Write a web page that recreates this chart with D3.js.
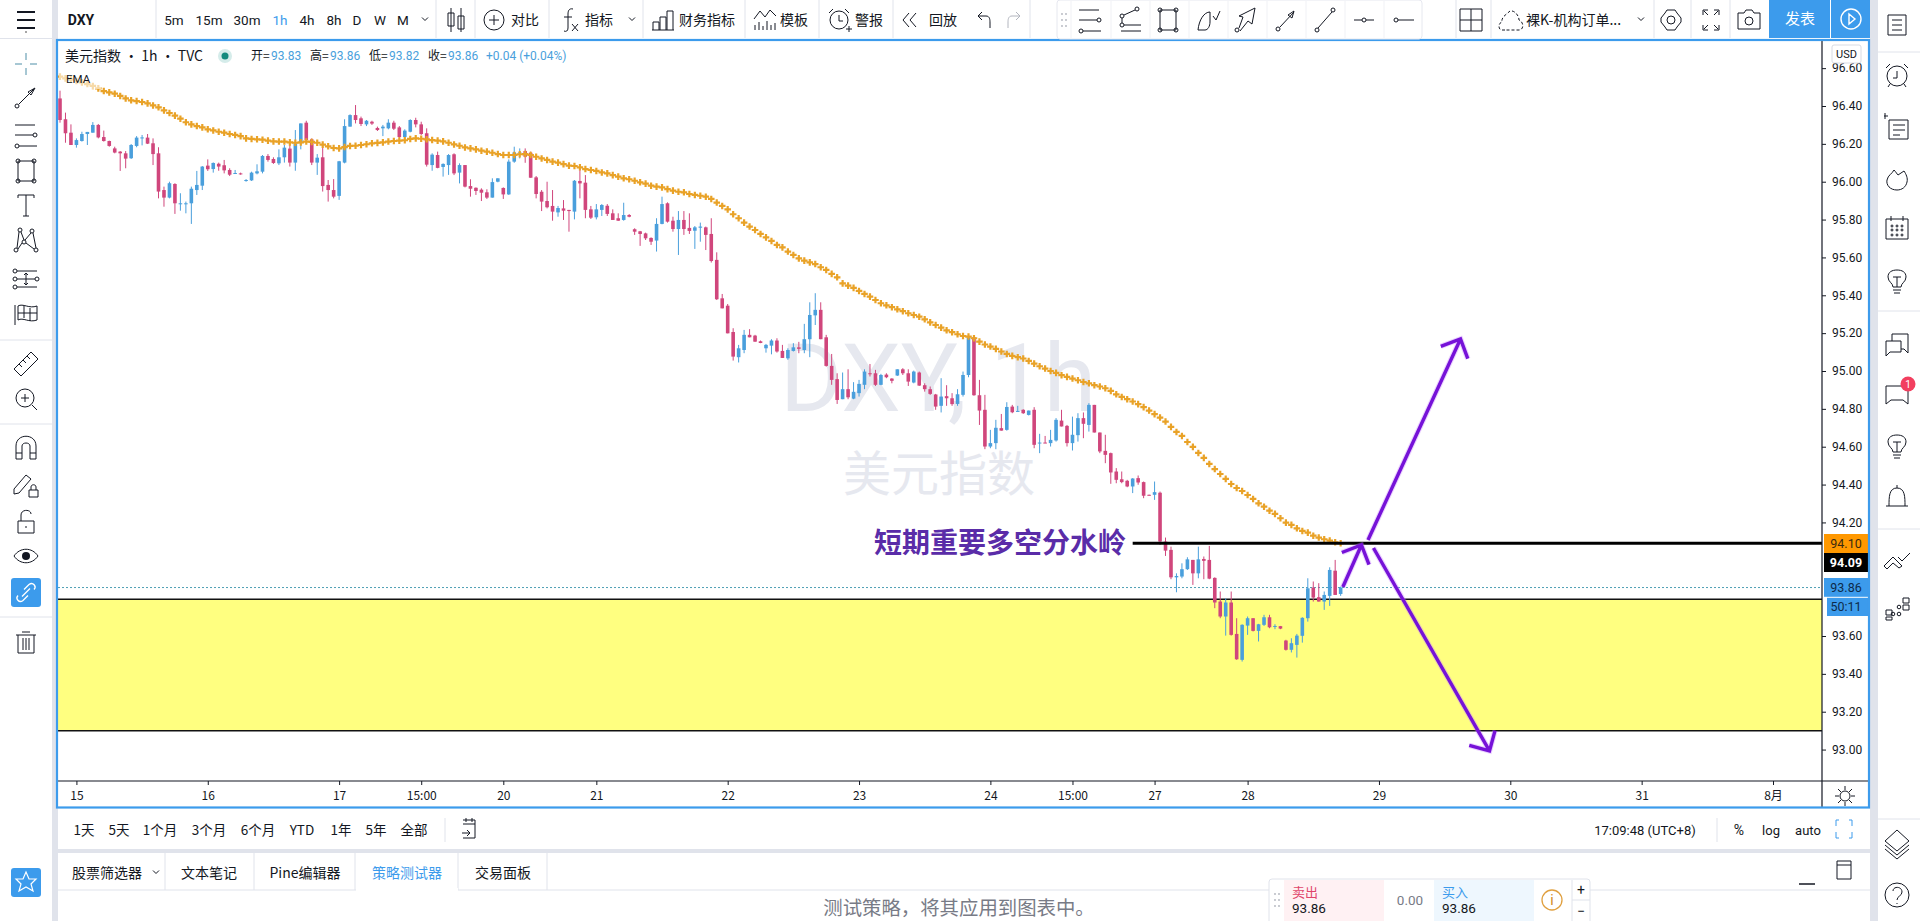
<!DOCTYPE html>
<html>
<head>
<meta charset="utf-8">
<title>DXY 1h</title>
<script src="https://cdn.jsdelivr.net/npm/d3@7"></script>
<style>
  html, body { margin: 0; padding: 0; background: #fff; overflow: hidden; }
  text { font-family: Roboto, "Noto Sans CJK SC", sans-serif; fill: #131722; }
  .cjk { font-family: "Noto Sans CJK SC", sans-serif; }
  .axis-y path, .axis-x path { display: none; }
  .axis-y line, .axis-x line { stroke: #131722; }
</style>
</head>
<body>
<svg id="chart" width="1920" height="921"></svg>
<script>
// one hourly candle per slot
const highs = [
  96.481,96.365,96.303,96.229,96.264,96.263,96.315,96.305,96.27,96.217,
  96.185,96.162,96.162,96.199,96.241,96.247,96.252,96.229,96.182,95.974,
  96.0,95.992,95.939,95.895,95.974,96.057,96.083,96.118,96.102,96.101,
  96.115,96.071,96.062,96.048,96.014,96.053,96.092,96.141,96.146,96.129,
  96.171,96.194,96.194,96.273,96.308,96.322,96.229,96.146,96.194,96.009,
  96.014,96.11,96.33,96.356,96.405,96.344,96.326,96.322,96.291,96.3,
  96.33,96.322,96.294,96.277,96.33,96.338,96.317,96.282,96.15,96.159,
  96.097,96.146,96.15,96.097,96.088,96.013,95.97,95.965,95.96,96.018,
  96.018,95.97,96.118,96.185,96.176,96.176,96.159,96.03,95.956,96.0,
  95.956,95.872,95.903,95.851,96.009,96.088,96.035,95.872,95.882,95.882,
  95.882,95.854,95.833,95.889,95.829,95.754,95.74,95.731,95.706,95.807,
  95.921,95.891,95.815,95.845,95.845,95.833,95.766,95.784,95.763,95.807,
  95.627,95.407,95.354,95.226,95.138,95.217,95.221,95.191,95.161,95.143,
  95.168,95.173,95.138,95.12,95.147,95.154,95.249,95.363,95.411,95.363,
  95.191,95.09,94.988,94.992,95.009,94.941,94.953,95.009,95.037,95.006,
  94.985,94.988,94.962,95.009,95.015,95.009,95.002,94.997,94.935,94.918,
  94.879,94.962,94.925,94.883,94.904,94.997,95.185,95.182,94.953,94.874,
  94.689,94.742,94.773,94.835,94.821,94.816,94.798,94.791,94.809,94.668,
  94.657,94.689,94.751,94.795,94.715,94.759,94.777,94.781,94.83,94.821,
  94.675,94.663,94.569,94.487,94.469,94.425,94.434,94.448,94.416,94.347,
  94.416,94.363,94.12,94.072,93.931,93.984,94.016,94.002,94.072,94.02,
  94.076,93.91,93.835,93.799,93.835,93.694,93.662,93.703,93.694,93.664,
  93.712,93.712,93.662,93.653,93.58,93.588,93.611,93.699,93.905,93.888,
  93.879,93.835,93.963,94.002,93.861
];
const lows = [
  96.312,96.206,96.194,96.18,96.212,96.194,96.259,96.229,96.212,96.185,
  96.15,96.057,96.071,96.12,96.182,96.192,96.199,96.088,95.912,95.868,
  95.912,95.83,95.847,95.833,95.777,95.93,95.956,96.057,96.048,96.058,
  96.044,96.03,96.044,96.037,96.0,96.004,96.039,96.044,96.106,96.094,
  96.088,96.101,96.08,96.058,96.171,96.212,96.088,96.036,95.948,95.895,
  95.912,95.904,96.097,96.291,96.308,96.294,96.294,96.3,96.268,96.241,
  96.277,96.273,96.229,96.229,96.261,96.287,96.247,96.08,96.058,96.071,
  96.027,96.036,96.035,95.991,95.97,95.921,95.93,95.898,95.909,95.916,
  95.997,95.909,95.93,96.1,96.123,96.1,96.021,95.912,95.845,95.859,
  95.794,95.815,95.798,95.736,95.801,95.912,95.807,95.803,95.801,95.819,
  95.819,95.798,95.793,95.794,95.812,95.719,95.661,95.692,95.666,95.631,
  95.775,95.784,95.736,95.613,95.719,95.724,95.645,95.683,95.639,95.573,
  95.375,95.331,95.199,95.055,95.045,95.094,95.178,95.154,95.147,95.097,
  95.088,95.097,95.069,95.059,95.103,95.094,95.094,95.073,95.243,95.168,
  95.023,94.927,94.826,94.851,94.851,94.851,94.865,94.904,94.971,94.921,
  94.925,94.962,94.935,94.974,94.979,94.921,94.935,94.921,94.891,94.874,
  94.795,94.781,94.816,94.816,94.816,94.865,94.967,94.869,94.715,94.587,
  94.592,94.587,94.685,94.685,94.777,94.786,94.773,94.765,94.592,94.566,
  94.619,94.601,94.627,94.707,94.601,94.58,94.627,94.645,94.68,94.675,
  94.566,94.513,94.404,94.407,94.407,94.386,94.355,94.399,94.328,94.342,
  94.319,94.081,94.023,93.9,93.831,93.905,93.949,93.87,93.905,93.9,
  93.9,93.747,93.694,93.602,93.602,93.474,93.465,93.606,93.624,93.571,
  93.653,93.641,93.636,93.636,93.523,93.513,93.486,93.565,93.676,93.782,
  93.782,93.738,93.759,93.817,93.812
];
const opens = [
  96.44,96.33,96.259,96.194,96.215,96.252,96.259,96.3,96.236,96.215,
  96.176,96.159,96.15,96.124,96.189,96.231,96.233,96.203,96.15,95.956,
  95.916,95.988,95.882,95.882,95.886,95.956,95.979,96.085,96.067,96.095,
  96.087,96.062,96.044,96.044,96.004,96.007,96.044,96.053,96.136,96.12,
  96.097,96.129,96.175,96.101,96.203,96.312,96.224,96.101,96.129,95.983,
  95.956,95.925,96.101,96.291,96.352,96.335,96.303,96.317,96.284,96.282,
  96.282,96.312,96.287,96.236,96.264,96.326,96.303,96.256,96.088,96.141,
  96.078,96.088,96.145,96.048,96.088,95.977,95.968,95.958,95.944,95.916,
  96.0,95.967,95.933,96.106,96.15,96.162,96.153,96.023,95.947,95.898,
  95.872,95.838,95.859,95.851,95.842,96.004,95.995,95.854,95.812,95.851,
  95.873,95.833,95.807,95.798,95.824,95.749,95.738,95.727,95.703,95.689,
  95.777,95.886,95.794,95.75,95.798,95.756,95.741,95.757,95.759,95.724,
  95.587,95.384,95.345,95.206,95.073,95.111,95.191,95.187,95.157,95.12,
  95.134,95.161,95.106,95.067,95.106,95.125,95.111,95.168,95.294,95.323,
  95.178,95.027,94.957,94.851,94.904,94.854,94.883,94.927,94.988,94.988,
  94.927,94.981,94.96,94.976,95.009,94.988,94.939,94.992,94.925,94.904,
  94.876,94.816,94.867,94.856,94.826,94.874,94.979,95.178,94.872,94.795,
  94.601,94.619,94.698,94.689,94.812,94.786,94.795,94.768,94.795,94.617,
  94.622,94.619,94.633,94.738,94.71,94.619,94.661,94.751,94.715,94.821,
  94.675,94.578,94.566,94.469,94.428,94.42,94.39,94.434,94.413,94.346,
  94.346,94.357,94.099,94.055,93.91,93.914,93.953,94.002,93.931,94.007,
  94.002,93.907,93.782,93.703,93.777,93.611,93.474,93.655,93.694,93.627,
  93.659,93.699,93.648,93.652,93.576,93.527,93.553,93.601,93.694,93.856,
  93.805,93.782,93.812,93.945,93.822
];
const closes = [
  96.326,96.256,96.194,96.22,96.252,96.263,96.3,96.234,96.215,96.189,
  96.154,96.15,96.122,96.194,96.233,96.234,96.201,96.146,95.948,95.916,
  95.992,95.886,95.886,95.886,95.963,95.983,96.08,96.066,96.099,96.08,
  96.06,96.037,96.046,96.041,96.009,96.048,96.055,96.136,96.115,96.099,
  96.129,96.18,96.101,96.203,96.308,96.22,96.101,96.127,95.977,95.956,
  95.921,96.108,96.294,96.352,96.326,96.305,96.322,96.307,96.273,96.291,
  96.312,96.28,96.236,96.27,96.326,96.303,96.252,96.09,96.143,96.073,
  96.094,96.141,96.044,96.088,95.974,95.963,95.951,95.942,95.916,95.998,
  96.018,95.933,96.106,96.155,96.155,96.132,96.021,95.935,95.895,95.865,
  95.842,95.861,95.847,95.845,96.005,95.991,95.851,95.81,95.854,95.877,
  95.83,95.798,95.794,95.824,95.815,95.736,95.724,95.701,95.683,95.777,
  95.882,95.789,95.75,95.798,95.75,95.74,95.759,95.763,95.719,95.581,
  95.379,95.331,95.199,95.076,95.12,95.191,95.178,95.155,95.148,95.138,
  95.161,95.103,95.069,95.111,95.125,95.117,95.168,95.296,95.323,95.168,
  95.027,94.953,94.847,94.904,94.861,94.89,94.932,94.997,94.983,94.927,
  94.979,94.967,94.948,95.009,94.988,94.944,94.997,94.923,94.904,94.879,
  94.812,94.865,94.856,94.825,94.877,94.979,95.178,94.872,94.791,94.601,
  94.619,94.7,94.685,94.81,94.782,94.789,94.777,94.791,94.61,94.622,
  94.619,94.636,94.742,94.707,94.619,94.663,94.751,94.721,94.821,94.675,
  94.575,94.557,94.464,94.425,94.413,94.39,94.432,94.411,94.341,94.344,
  94.36,94.099,94.051,93.91,93.917,93.953,94.005,93.931,94.005,93.997,
  93.903,93.777,93.703,93.777,93.606,93.477,93.659,93.694,93.627,93.662,
  93.699,93.646,93.653,93.639,93.527,93.562,93.602,93.696,93.852,93.803,
  93.782,93.817,93.949,93.817,93.856
];
const emaValues = [
  96.555,96.546,96.541,96.532,96.525,96.516,96.506,96.493,96.479,96.472,
  96.465,96.453,96.44,96.43,96.426,96.421,96.414,96.403,96.393,96.377,
  96.363,96.349,96.333,96.314,96.303,96.294,96.287,96.277,96.271,96.264,
  96.259,96.252,96.247,96.241,96.229,96.226,96.224,96.222,96.217,96.213,
  96.212,96.212,96.208,96.206,96.208,96.212,96.21,96.206,96.196,96.187,
  96.178,96.176,96.183,96.189,96.19,96.194,96.198,96.203,96.205,96.208,
  96.212,96.215,96.217,96.219,96.226,96.229,96.227,96.224,96.22,96.217,
  96.213,96.206,96.197,96.19,96.181,96.176,96.171,96.164,96.159,96.153,
  96.146,96.141,96.141,96.141,96.145,96.146,96.141,96.132,96.123,96.115,
  96.106,96.101,96.093,96.085,96.083,96.076,96.067,96.062,96.057,96.049,
  96.044,96.035,96.027,96.018,96.013,96.005,95.997,95.99,95.979,95.974,
  95.97,95.961,95.953,95.947,95.944,95.935,95.93,95.926,95.921,95.909,
  95.89,95.872,95.854,95.828,95.807,95.784,95.763,95.745,95.724,95.706,
  95.687,95.666,95.653,95.631,95.613,95.595,95.583,95.574,95.565,95.548,
  95.534,95.513,95.495,95.463,95.451,95.439,95.423,95.407,95.393,95.375,
  95.358,95.347,95.337,95.326,95.316,95.305,95.296,95.287,95.273,95.257,
  95.243,95.229,95.215,95.205,95.194,95.185,95.182,95.173,95.155,95.14,
  95.129,95.117,95.103,95.09,95.08,95.073,95.066,95.053,95.039,95.025,
  95.013,95.0,94.99,94.978,94.969,94.96,94.951,94.942,94.935,94.925,
  94.918,94.909,94.895,94.877,94.863,94.851,94.839,94.825,94.809,94.791,
  94.772,94.754,94.733,94.705,94.678,94.657,94.625,94.599,94.567,94.541,
  94.509,94.482,94.456,94.43,94.403,94.382,94.366,94.345,94.324,94.301,
  94.283,94.262,94.245,94.222,94.199,94.187,94.169,94.155,94.146,94.13,
  94.12,94.111,94.104,94.095,94.09
];

// 94.00 and 93.80 sit under the price tags, so they never show
const priceTicks = [96.6,96.4,96.2,96.0,95.8,95.6,95.4,95.2,95.0,94.8,94.6,94.4,94.2,93.6,93.4,93.2,93.0];
const timeSlots = [3,27,51,66,81,98,122,146,170,185,200,217,241,265,289,313];
const timeLabels = ['15','16','17','15:00','20','21','22','23','24','15:00','27','28','29','30','31','8月'];

// drawn levels and arrows: [slot, price]
const levelLine = { fromSlot: 196, price: 94.09 };
const zoneTop = 93.794, zoneBottom = 93.10;
const lastPrice = 93.856;
const arrows = [
  [[234.4, 93.859], [237.8, 94.081]],
  [[239, 94.107], [255.9, 95.169]],
  [[240, 94.065], [261.2, 92.993]]
];

const svg = d3.select('#chart');
const plot = { left: 58, right: 1822, top: 40, bottom: 781 };
const upColor = '#4a9fdc', downColor = '#d0467c', blue = '#3c9bec', gray = '#e0e3eb', ink = '#131722';

const x = d3.scaleLinear().domain([0, 313]).range([60, 1773]);
const y = d3.scaleLinear().domain([96.4, 93.6]).range([106, 636]);

svg.append('defs').append('clipPath').attr('id', 'plotClip').append('rect')
  .attr('x', plot.left).attr('y', plot.top)
  .attr('width', plot.right - plot.left).attr('height', plot.bottom - plot.top);

function label(text, px, py, opts = {}) {
  return svg.append('text').text(text)
    .attr('x', px).attr('y', py)
    .attr('dy', '0.35em')
    .attr('text-anchor', opts.anchor || 'middle')
    .attr('font-size', opts.size || 14)
    .attr('font-weight', opts.weight || 400)
    .attr('class', opts.cjk === false ? null : 'cjk')
    .style('fill', opts.color || ink);
}
function box(px, py, w, h, fill) {
  return svg.append('rect').attr('x', px).attr('y', py).attr('width', w).attr('height', h).attr('fill', fill);
}
function rule(x1, y1, x2, y2, color = gray, w = 1) {
  return svg.append('line').attr('x1', x1).attr('y1', y1).attr('x2', x2).attr('y2', y2)
    .attr('stroke', color).attr('stroke-width', w);
}

// gaps between the panels
box(0, 0, 1920, 921, '#fff');
box(52, 0, 6, 921, gray);
box(1870, 0, 8, 921, gray);
box(56, 849, 1814, 4, gray);

// watermark
label('DXY, 1h', 938, 378, { size: 95, color: '#e6e8ef', cjk: false });
label('美元指数', 939, 474, { size: 48, color: '#e6e8ef' });

const chart = svg.append('g').attr('clip-path', 'url(#plotClip)');

// yellow zone
chart.append('rect')
  .attr('x', plot.left).attr('width', plot.right - plot.left)
  .attr('y', y(zoneTop)).attr('height', y(zoneBottom) - y(zoneTop))
  .attr('fill', '#ffff80').attr('stroke', 'none');
[zoneTop, zoneBottom].forEach(p => {
  chart.append('line').attr('x1', plot.left).attr('x2', plot.right)
    .attr('y1', y(p)).attr('y2', y(p)).attr('stroke', '#111').attr('stroke-width', 1.5);
});

// last price line
chart.append('line').attr('x1', plot.left).attr('x2', plot.right)
  .attr('y1', y(lastPrice)).attr('y2', y(lastPrice))
  .attr('stroke', '#4f9fb4').attr('stroke-width', 1).attr('stroke-dasharray', '2 2');

// candles
const candles = closes.map((c, i) => ({ i, o: opens[i], h: highs[i], l: lows[i], c }));
const candle = chart.append('g').selectAll('g').data(candles).join('g')
  .attr('fill', d => d.c >= d.o ? upColor : downColor)
  .attr('stroke', d => d.c >= d.o ? upColor : downColor);
candle.append('line')
  .attr('x1', d => x(d.i)).attr('x2', d => x(d.i))
  .attr('y1', d => y(d.h)).attr('y2', d => y(d.l))
  .attr('stroke-width', 1);
candle.append('rect')
  .attr('x', d => x(d.i) - 1.8).attr('width', 3.6)
  .attr('y', d => y(Math.max(d.o, d.c)))
  .attr('height', d => Math.max(1, Math.abs(y(d.o) - y(d.c))))
  .attr('stroke', 'none');

// EMA crosses
const crossPath = d3.symbol().type(d3.symbolCross).size(24)();
chart.append('g').selectAll('path').data(emaValues).join('path')
  .attr('d', crossPath)
  .attr('transform', (d, i) => `translate(${x(i)},${y(d)})`)
  .attr('fill', '#e9a227');

// drawn level
chart.append('line')
  .attr('x1', x(levelLine.fromSlot)).attr('x2', plot.right)
  .attr('y1', y(levelLine.price)).attr('y2', y(levelLine.price))
  .attr('stroke', '#000').attr('stroke-width', 3);

// arrows
const arrowColor = '#7612d8';
arrows.forEach(([from, to]) => {
  const x1 = x(from[0]), y1 = y(from[1]), x2 = x(to[0]), y2 = y(to[1]);
  const a = Math.atan2(y1 - y2, x1 - x2);
  const wing = s => [x2 + 21 * Math.cos(a + s * Math.PI / 4), y2 + 21 * Math.sin(a + s * Math.PI / 4)];
  const w1 = wing(1), w2 = wing(-1);
  const d = `M${x1},${y1}L${x2},${y2}M${w1}L${x2},${y2}L${w2}`;
  chart.append('path').attr('d', d)
    .attr('fill', 'none').attr('stroke', '#c77dff').attr('stroke-opacity', 0.35).attr('stroke-width', 5.5);
  chart.append('path').attr('d', d)
    .attr('fill', 'none').attr('stroke', arrowColor).attr('stroke-width', 3.4);
});

label('短期重要多空分水岭', 874, y(levelLine.price), { anchor: 'start', size: 28, weight: 700, color: '#5a2ca8' });

// fade behind the EMA title
box(59, 68, 42, 21, 'rgba(255,255,255,0.6)');

// axes
svg.append('g').attr('class', 'axis-y')
  .attr('transform', `translate(${plot.right},0)`)
  .call(d3.axisRight(y).tickValues(priceTicks).tickSize(4).tickPadding(6).tickFormat(d3.format('.2f')))
  .call(g => g.selectAll('text').attr('font-size', 12).style('fill', ink));
svg.append('g').attr('class', 'axis-x')
  .attr('transform', `translate(0,${plot.bottom})`)
  .call(d3.axisBottom(x).tickValues(timeSlots).tickSize(4).tickPadding(6)
    .tickFormat((d, i) => timeLabels[i]))
  .call(g => g.selectAll('text').attr('font-size', 12).attr('class', 'cjk').style('fill', ink));
rule(plot.left, plot.bottom, 1868, plot.bottom, ink, 1.2);
rule(plot.right, plot.top, plot.right, 808, ink, 1.2);

// price tags on the axis
box(1824, 534, 45, 19, '#ff9800');
label('94.10', 1846, 543.5, { size: 12.5, cjk: false, color: '#3a2a10' });
box(1824, 553, 45, 19, '#000');
label('94.09', 1846, 562.5, { size: 12.5, cjk: false, weight: 700, color: '#fff' });
box(1824, 578, 45, 19, blue);
label('93.86', 1846, 587.5, { size: 12.5, cjk: false, color: '#0d2a4a' });
box(1827, 597, 42, 19, blue);
label('50:11', 1846, 606.5, { size: 12.5, cjk: false, color: '#0d2a4a' });
rule(1824, 597.3, 1869, 597.3, '#fff', 1);

svg.append('rect').attr('x', 1832).attr('y', 45).attr('width', 29).attr('height', 18)
  .attr('rx', 2).attr('fill', '#fff').attr('stroke', '#d8dbe3');
label('USD', 1846.5, 54, { size: 11, cjk: false });

// chart frame
svg.append('rect').attr('x', 57).attr('y', 40).attr('width', 1812).attr('height', 767.5)
  .attr('fill', 'none').attr('stroke', blue).attr('stroke-width', 2.2);

// legend
label('美元指数 · 1h · TVC', 65, 56, { anchor: 'start', size: 14 });
svg.append('circle').attr('cx', 225).attr('cy', 56).attr('r', 7).attr('fill', '#d5ecea');
svg.append('circle').attr('cx', 225).attr('cy', 56).attr('r', 3.5).attr('fill', '#138a7e');
[['开=', '93.83', 251], ['高=', '93.86', 310], ['低=', '93.82', 369], ['收=', '93.86', 428]].forEach(([k, v, px]) => {
  label(k, px, 56, { anchor: 'start', size: 12 });
  label(v, px + 20, 56, { anchor: 'start', size: 12, color: '#4a9fdc', cjk: false });
});
label('+0.04 (+0.04%)', 486, 56, { anchor: 'start', size: 12, color: '#4a9fdc', cjk: false });
label('EMA', 66, 79, { anchor: 'start', size: 11.5, cjk: false });

// icons, drawn around their centre
const c = (cx, cy, r = 2) => `M${cx - r},${cy}a${r},${r} 0 1 0 ${2 * r},0a${r},${r} 0 1 0 ${-2 * r},0`;
const icons = {
  menu: 'M-9,-8H9M-9,0H9M-9,8H9',
  candle: `M-5,-12V12M5,-12V12M-8,-7H-2V6H-8ZM2,-4H8V9H2Z`,
  plusCircle: `${c(0, 0, 10)}M-5,0H5M0,-5V5`,
  fx: 'M4,-11C0,-12 -1,-9 -1,-6V8C-1,11 -3,12 -5,11M-5,-3H3M3,4L9,11M9,4L3,11',
  bars: 'M-11,10H11M-10,10V2H-4V10M-3,10V-3H3V10M4,10V-9H10V10',
  template: 'M-11,-1L-5,-9L0,-3L5,-10L11,-4M-10,10V5M-6,10V2M-2,10V6M2,10V1M6,10V5M10,10V3',
  alarm: `${c(0, 1, 9)}M0,-4V2H4M-10,-6L-6,-10M10,-6L6,-10M7,10H13M10,7V13`,
  replay: 'M-3,-7L-9,0L-3,7M4,-7L-2,0L4,7',
  undo: 'M-6,-4L-2,-8M-6,-4L-2,0M-6,-4H2C6,-4 6,0 6,3V8',
  redo: 'M6,-4L2,-8M6,-4L2,0M6,-4H-2C-6,-4 -6,0 -6,3V8',
  parallel: `M-11,-10H9M-11,0H7${c(9, 0)}M-7,11H11${c(-9, 11)}`,
  fibLines: `${c(7, -11)}${c(-8, -4)}M-6,-5L5,-10M-8,-2V3${c(-8, 5)}M-6,5H11M-9,11H11`,
  rectPts: `M-8,-10H8V10H-8Z${c(-8, -10)}${c(8, -10)}${c(-8, 10)}${c(8, 10)}`,
  wedge: 'M-10,10C-9,0 -4,-8 2,-8L2,2C2,6 0,10 -3,10ZM5,-4L8,0L12,-9',
  bigArrow: `${c(-9, 10)}M-7,8L-3,-3L-7,-4L9,-12L6,4L2,1L-6,11`,
  arrowLine: `${c(-8, 9)}M-6,7L8,-8M2,-5L8,-9L6,-2L2,-5Z`,
  line: `${c(-8, 10)}${c(8, -10)}M-7,8L7,-8`,
  midLine: `${c(0, 0)}M-10,0H-2M2,0H10`,
  endLine: `${c(-7, 0)}M-5,0H11`,
  grid: 'M-11,-11H11V11H-11ZM-11,0H11M0,-11V11',
  cloud: 'M-6,10H-9C-13,10 -13,3 -9,2C-10,-3 -4,-6 -1,-9C3,-10 8,-5 8,0C13,2 13,10 8,10H-6Z',
  chevron: 'M-3,-1.5L0,1.5L3,-1.5',
  gear: `${c(0, 0, 4)}M-4,-10H4L6,-7L10,-2V2L6,7L4,10H-4L-6,7L-10,2V-2L-6,-7Z`,
  expand: 'M-8,-10H-3M-8,-10V-5M8,-10H3M8,-10V-5M-8,10H-3M-8,10V5M8,10H3M8,10V5M-7,-9L-3,-5M7,-9L3,-5M-7,9L-3,5M7,9L3,5',
  camera: `M-11,-7H-5L-3,-10H3L5,-7H11V9H-11Z${c(0, 1, 4)}`,
  play: `${c(0, 0, 10)}M-2,-5L4,0L-2,5Z`,
  list: 'M-9,-10H9V10H-9ZM-5,-5H5M-5,0H5M-5,5H5',
  clock: `${c(0, 1, 10)}M0,-4V3H-4M-11,-7L-7,-11M11,-7L7,-11M-7,9L-9,12M7,9L9,12`,
  note: 'M-8,-8H11V11H-8ZM-4,-3H8M-4,2H8M-4,7H3M-13,-12H-9M-12,-9V-15',
  fire: 'M0,11C-7,11 -11,6 -10,1C-9,-4 -5,-5 -3,-9C-1,-7 0,-5 1,-4L7,-8C9,-5 11,-1 10,3C9,8 5,11 0,11Z',
  calendar: `M-11,-9H11V11H-11ZM-6,-12V-7M6,-12V-7${c(-5, -2, 1)}${c(0, -2, 1)}${c(5, -2, 1)}${c(-5, 2, 1)}${c(0, 2, 1)}${c(5, 2, 1)}${c(-5, 7, 1)}${c(0, 7, 1)}${c(5, 7, 1)}`,
  bulb: 'M-4,6C-4,2 -9,1 -9,-4C-9,-9 -5,-11 0,-11C5,-11 9,-9 9,-4C9,1 4,2 4,6ZM-4,9H4M-3,12H3M-4,-4H4M0,-4V6',
  chats: 'M-11,-3H4V8H-7L-11,12ZM-5,-3V-10H11V9L7,5H4',
  chat: 'M-11,-7H11V11L6,7H-6L-11,11Z',
  bell: 'M-11,9H11M-8,9C-8,0 -8,-9 0,-9C8,-9 8,0 8,9M0,-9V-12',
  chevrons: 'M-13,6L-4,-3L5,6L2,8L-4,3L-10,9ZM1,-3L5,1L13,-7',
  dots: `${c(-4, 7, 1.8)}${c(2, 0, 1.8)}${c(2, 7, 1.8)}M6,-9H12V-4H6ZM6,-2H12V3H6ZM-11,3H-5V8H-11ZM-11,10H-5V13H-11Z`,
  layers: 'M0,-11L12,0L0,10L-12,0ZM-12,4L0,14L12,4M-12,8L0,18L12,8',
  help: `${c(0, 0, 12)}M-4,-4C-4,-9 5,-9 5,-3C5,1 0,1 0,5M0,8V9`,
  crosshair: 'M-11,0H-4M4,0H11M0,-11V-4M0,4V11',
  arrowTool: `${c(-9, 9)}M-7,7L8,-8M2,-5L9,-9L5,-2Z`,
  textT: 'M-8,-10H8M-8,-10V-7M8,-10V-7M0,-10V11M-3,11H3',
  pattern: `${c(-10, 10)}${c(-6, -10)}${c(-2, 2)}${c(6, -9)}${c(10, 10)}M-9,8L-7,-8M-5,-8L-2,0M-1,0L5,-7M7,-7L10,8M-8,9L-4,3M0,3L8,9`,
  fibTool: `${c(-11, -8)}${c(-11, 0)}${c(-11, 8)}${c(11, 0)}M-9,-8H11M-9,0H9M-9,8H11M0,-6V6M-2,-4L0,-6L2,-4M-2,4L0,6L2,4`,
  flag: 'M-11,-9V11M-8,-8C-3,-11 3,-5 11,-8V6C3,9 -3,3 -8,6ZM-8,-1H11M-2,-8V4M4,-6V7',
  ruler: 'M-12,5L5,-12L12,-5L-5,12ZM-7,0L-4,3M-3,-4L0,-1M1,-8L4,-5',
  zoomIn: `${c(-1, -1, 9)}M-5,-1H3M-1,-5V3M6,6L11,11`,
  magnet: 'M-10,11V-2C-10,-15 10,-15 10,-2V11H4V-2C4,-6 -4,-6 -4,-2V11ZM-10,5H-4M4,5H10',
  pencilLock: 'M-12,4L0,-10L5,-6L-7,8L-12,9ZM3,5H12V12H3ZM5,5V2C5,-1 10,-1 10,2V5',
  lock: 'M-8,0H8V12H-8ZM-5,0V-6C-5,-12 5,-12 5,-7M0,5V7',
  eye: `M-12,0C-6,-9 6,-9 12,0C6,9 -6,9 -12,0Z`,
  link: 'M-8,3C-11,6 -7,11 -3,8L2,3M8,-3C11,-6 7,-11 3,-8L-2,-3M-4,4L4,-4',
  trash: 'M-8,-7V11H8V-7M-10,-7H10M-4,-10H4M-3,-4V8M0,-4V8M3,-4V8',
  star: 'M0,-10L3,-3L10,-3L5,2L7,9L0,5L-7,9L-5,2L-10,-3L-3,-3Z',
  fullBox: 'M-5,-9H-8V-3M5,-9H8V-3M-8,3V9H-5M8,3V9H5',
  panel: 'M-7,-9H7V9H-7ZM-7,-5H7',
  sun: `${c(0, 0, 5)}M0,-10V-6M0,6V10M-10,0H-6M6,0H10M-7,-7L-4,-4M7,-7L4,-4M-7,7L-4,4M7,7L4,4`,
  grip: `${c(-2, -6, 0.6)}${c(2, -6, 0.6)}${c(-2, 0, 0.6)}${c(2, 0, 0.6)}${c(-2, 6, 0.6)}${c(2, 6, 0.6)}`
};
function icon(name, px, py, color = ink, w = 1, scale = 1) {
  return svg.append('path').attr('d', icons[name])
    .attr('transform', `translate(${px},${py}) scale(${scale})`)
    .attr('fill', 'none').attr('stroke', color).attr('stroke-width', w);
}

// top bar
icon('menu', 26, 20, ink, 2);
svg.append('circle').attr('cx', 26).attr('cy', 32).attr('r', 1).attr('fill', '#888');
label('DXY', 81, 20, { size: 14, weight: 700, cjk: false });
[['5m', 174], ['15m', 209], ['30m', 247], ['4h', 307], ['8h', 334], ['D', 357], ['W', 380], ['M', 403]]
  .forEach(([t, px]) => label(t, px, 20, { size: 13.5, cjk: false }));
label('1h', 280, 20, { size: 13.5, color: blue, cjk: false });
icon('chevron', 425, 19);
[156, 436, 475, 549, 643, 745, 819, 893, 1030].forEach(px => rule(px, 0, px, 38));
rule(0, 38.5, 52, 38.5);
icon('candle', 456, 20);
icon('plusCircle', 494, 20);
label('对比', 525, 20);
icon('fx', 569, 20);
label('指标', 599, 20);
icon('chevron', 632, 19);
icon('bars', 663, 20);
label('财务指标', 707, 20);
icon('template', 765, 20);
label('模板', 794, 20);
icon('alarm', 839, 19);
label('警报', 869, 20);
icon('replay', 912, 20);
label('回放', 943, 20);
icon('undo', 984, 20);
icon('redo', 1014, 20, '#b2b5be');

// floating drawing bar
svg.append('rect').attr('x', 1057).attr('y', 0).attr('width', 365).attr('height', 39)
  .attr('rx', 3).attr('fill', '#fff').attr('stroke', '#e6e8ef');
icon('grip', 1064, 20, '#b2b5be');
[['parallel', 1090], ['fibLines', 1130], ['rectPts', 1168], ['wedge', 1208], ['bigArrow', 1246],
 ['arrowLine', 1286], ['line', 1325], ['midLine', 1364], ['endLine', 1403]]
  .forEach(([n, px]) => icon(n, px, 20));
[1071, 1111, 1150, 1189, 1228, 1267, 1306, 1345, 1384].forEach(px => rule(px, 1, px, 38, '#f0f1f5'));

icon('grid', 1471, 20);
icon('cloud', 1511, 20).attr('stroke-dasharray', '3 2');
label('裸K-机构订单...', 1526, 20, { anchor: 'start' });
icon('chevron', 1641, 19);
icon('gear', 1671, 20);
icon('expand', 1711, 20);
icon('camera', 1749, 20);
[1456, 1491, 1654, 1691, 1730].forEach(px => rule(px, 0, px, 38));
box(1769, 0, 61, 38, blue);
box(1831, 0, 39, 38, blue);
label('发表', 1800, 19, { color: '#fff', size: 15 });
icon('play', 1851, 19, '#fff', 1.4);

// left tools
[['crosshair', 64, '#4f8fa8'], ['arrowTool', 97], ['parallel', 135], ['rectPts', 171], ['textT', 205],
 ['pattern', 240], ['fibTool', 279], ['flag', 314], ['ruler', 364], ['zoomIn', 399], ['magnet', 448],
 ['pencilLock', 485], ['lock', 521], ['eye', 556], ['trash', 642]]
  .forEach(([n, py, col]) => icon(n, 26, py, col || ink));
svg.append('circle').attr('cx', 26).attr('cy', 556).attr('r', 4).attr('fill', ink);
[340, 424, 617].forEach(py => rule(0, py, 52, py));
svg.append('rect').attr('x', 11).attr('y', 578).attr('width', 30).attr('height', 29).attr('rx', 3).attr('fill', blue);
icon('link', 26, 592.5, '#fff', 1.3);
svg.append('rect').attr('x', 11).attr('y', 868).attr('width', 30).attr('height', 29).attr('rx', 3).attr('fill', blue);
icon('star', 26, 882, '#fff', 1.2);

// right tools
[['list', 25], ['clock', 75], ['note', 128], ['fire', 179], ['calendar', 228], ['bulb', 281], ['chats', 344],
 ['chat', 393], ['bulb', 446], ['bell', 497], ['chevrons', 560], ['dots', 607], ['layers', 841], ['help', 895]]
  .forEach(([n, py]) => icon(n, 1897, py));
[52, 311, 529, 819].forEach(py => rule(1878, py, 1920, py));
svg.append('circle').attr('cx', 1908).attr('cy', 384).attr('r', 7.5).attr('fill', '#f23f5f');
label('1', 1908, 384, { size: 10, color: '#fff', cjk: false });
icon('sun', 1845, 796);

// range bar
[['1天', 84], ['5天', 119], ['1个月', 160], ['3个月', 209], ['6个月', 258], ['YTD', 302], ['1年', 341], ['5年', 376], ['全部', 414]]
  .forEach(([t, px]) => label(t, px, 830, { size: 13.5 }));
rule(445, 818, 445, 842);
svg.append('path').attr('d', 'M-6,-9H6V9H-6M-6,-5H6M-3,-11V-7M3,-11V-7M-7,4H1M-2,1L1,4L-2,7')
  .attr('transform', 'translate(469,829)').attr('fill', 'none').attr('stroke', ink);
label('17:09:48 (UTC+8)', 1645, 830, { size: 13, cjk: false });
rule(1717, 818, 1717, 842);
label('%', 1739, 830, { size: 14, cjk: false });
label('log', 1771, 830, { size: 13, cjk: false });
label('auto', 1808, 830, { size: 13, cjk: false });
icon('fullBox', 1844, 829, blue);

// bottom tabs
rule(56, 890, 1870, 890);
[['股票筛选器', 107], ['文本笔记', 209], ['Pine编辑器', 305], ['交易面板', 503]].forEach(([t, px]) => label(t, px, 873));
label('策略测试器', 407, 873, { color: blue });
icon('chevron', 156, 872);
[165, 254, 355, 458, 547].forEach(px => rule(px, 853, px, 890));
box(356, 888, 102, 3, '#fff');
rule(1799, 884, 1815, 884, ink, 1.5);
icon('panel', 1844, 870);
label('测试策略，将其应用到图表中。', 959, 908, { size: 19.4, color: '#787b86' });

// order ticket
svg.append('rect').attr('x', 1269).attr('y', 879).attr('width', 321).attr('height', 46)
  .attr('rx', 3).attr('fill', '#fff').attr('stroke', '#e0e3eb');
icon('grip', 1277, 900, '#b2b5be');
box(1284, 880, 100, 41, '#fff1f3');
box(1434, 880, 100, 41, '#eef7fe');
label('卖出', 1292, 892, { anchor: 'start', size: 13, color: '#e0456b' });
label('93.86', 1292, 908, { anchor: 'start', size: 13.5, cjk: false });
label('0.00', 1410, 900, { size: 13.5, color: '#787b86', cjk: false });
label('买入', 1442, 892, { anchor: 'start', size: 13, color: blue });
label('93.86', 1442, 908, { anchor: 'start', size: 13.5, cjk: false });
svg.append('circle').attr('cx', 1552).attr('cy', 900).attr('r', 10).attr('fill', '#fff').attr('stroke', '#e0a040').attr('stroke-width', 1.3);
label('i', 1552, 900, { size: 14, color: '#d08a20', cjk: false });
rule(1572, 880, 1572, 921);
rule(1572, 900, 1590, 900);
label('+', 1581, 890, { size: 14, cjk: false });
label('−', 1581, 911, { size: 14, cjk: false });
</script>
</body>
</html>
